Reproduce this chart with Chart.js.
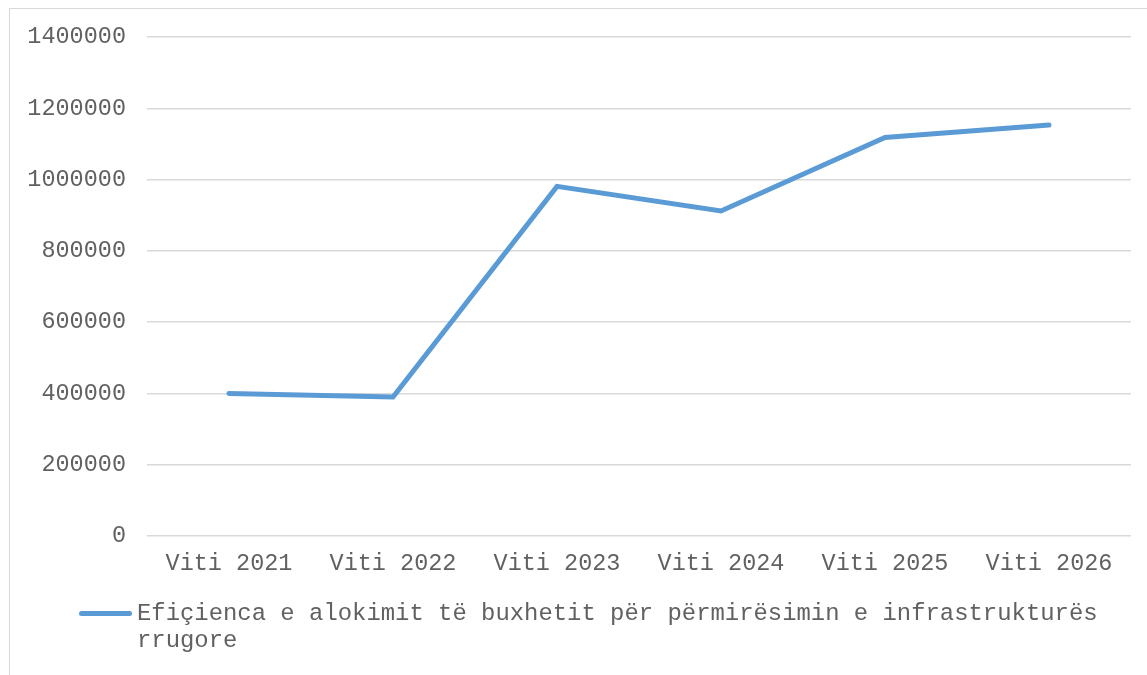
<!DOCTYPE html>
<html>
<head>
<meta charset="utf-8">
<script src="https://cdn.jsdelivr.net/npm/chart.js@4/dist/chart.umd.min.js"></script>
<style>
    html, body { margin: 0; padding: 0; background: #fff; overflow: hidden; }
    #wrap { position: relative; width: 1147px; height: 675px; }
    #frame {
        position: absolute; left: 9px; top: 8px; width: 1200px; height: 700px;
        border-left: 1px solid #d9d9d9; border-top: 1px solid #d9d9d9;
    }
    #chart { position: absolute; left: 0; top: 0; }
    #legend {
        position: absolute; left: 79px; top: 600px; width: 1060px;
        font-family: "Liberation Mono", "Courier New", monospace; font-size: 23.9px;
        color: #616161; line-height: 27px;
    }
    #legend .swatch {
        position: absolute; left: 0; top: 11px; width: 53px; height: 5px;
        border-radius: 3px; background: #5b9bd5;
    }
    #legend .text { margin-left: 58px; width: 1000px; }
</style>
</head>
<body>
<div id="wrap">
    <div id="frame"></div>
    <canvas id="chart" width="1147" height="675"></canvas>
    <div id="legend"><span class="swatch"></span><div class="text" id="legendText"></div></div>
</div>
<script>
// Years on the x axis
const labels = ['Viti 2021', 'Viti 2022', 'Viti 2023', 'Viti 2024', 'Viti 2025', 'Viti 2026'];
// Budget allocation values
const values = [400000, 390000, 981000, 912000, 1118000, 1153000];
const seriesName = 'Efiçienca e alokimit të buxhetit për përmirësimin e infrastrukturës rrugore';
const lineColor = '#5b9bd5';
const textColor = '#616161';
const gridColor = '#d9d9d9';

document.getElementById('legendText').textContent = seriesName;

const fontMono = {
    family: '"Liberation Mono", "Courier New", monospace',
    size: 23.5
};

new Chart(document.getElementById('chart').getContext('2d'), {
    type: 'line',
    data: {
        labels: labels,
        datasets: [{
            label: seriesName,
            data: values,
            borderColor: lineColor,
            backgroundColor: lineColor,
            borderWidth: 5,
            borderCapStyle: 'round',
            borderJoinStyle: 'miter',
            tension: 0,
            pointRadius: 0,
            fill: false
        }]
    },
    options: {
        responsive: false,
        animation: false,
        layout: {
            padding: { top: 37, right: 16, left: 0, bottom: 0 }
        },
        plugins: {
            legend: { display: false },
            tooltip: { enabled: false }
        },
        scales: {
            x: {
                offset: true,
                afterFit: (scale) => { scale.height = 139; },
                grid: { display: false, drawTicks: false },
                border: { display: false },
                ticks: {
                    color: textColor,
                    font: fontMono,
                    padding: 14,
                    maxRotation: 0,
                    autoSkip: false
                }
            },
            y: {
                min: 0,
                max: 1400000,
                afterFit: (scale) => { scale.width = 147; },
                grid: { color: gridColor, lineWidth: 1.5, drawTicks: false },
                border: { display: false },
                ticks: {
                    stepSize: 200000,
                    color: textColor,
                    font: fontMono,
                    padding: 21,
                    callback: (value) => String(value)
                }
            }
        }
    }
});
</script>
</body>
</html>
